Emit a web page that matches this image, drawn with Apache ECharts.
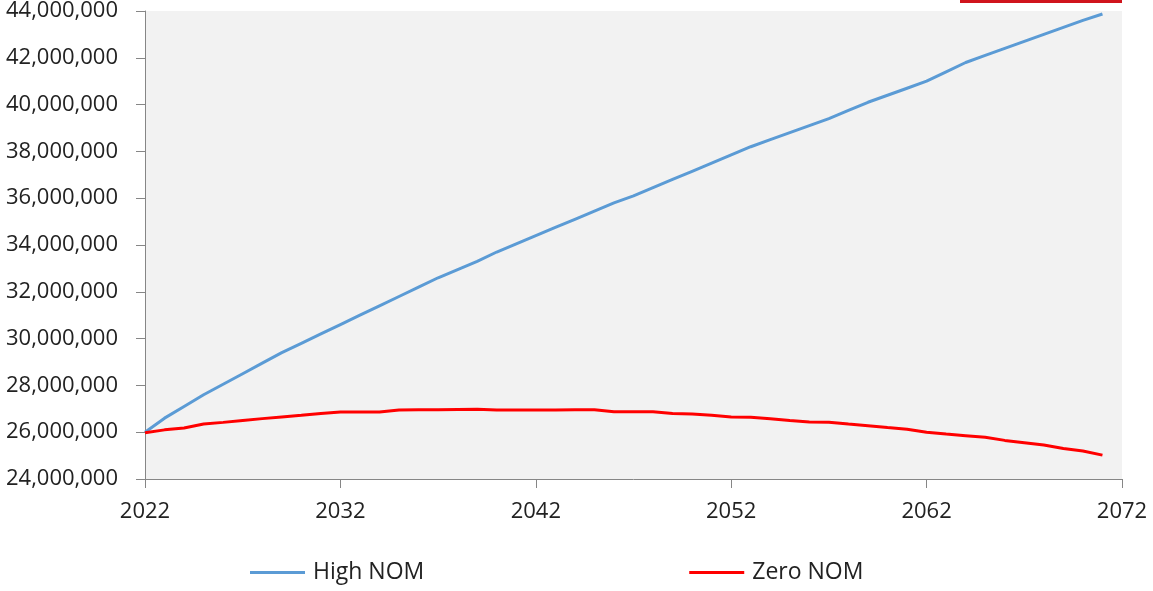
<!DOCTYPE html>
<html>
<head>
<meta charset="utf-8">
<script src="https://cdn.jsdelivr.net/npm/echarts@6/dist/echarts.min.js"></script>
<style>
  html, body { margin: 0; padding: 0; background: #ffffff; }
  #chart { width: 1153px; height: 591px; }
</style>
</head>
<body>
<div id="chart"></div>
<script>
// Projected population, 2022–2071 (millions)
const years = [];
for (let y = 2022; y <= 2071; y++) years.push(y);

const highNom = [
  26.0, 26.6, 27.1, 27.6, 28.05, 28.5, 28.95, 29.4, 29.8, 30.2,
  30.6, 31.0, 31.4, 31.8, 32.2, 32.6, 32.95, 33.3, 33.7, 34.05,
  34.4, 34.75, 35.1, 35.45, 35.8, 36.1, 36.45, 36.8, 37.15, 37.5,
  37.85, 38.2, 38.5, 38.8, 39.1, 39.4, 39.75, 40.1, 40.4, 40.7,
  41.0, 41.4, 41.8, 42.1, 42.4, 42.7, 43.0, 43.3, 43.6, 43.87
];

const zeroNom = [
  25.98, 26.1, 26.18, 26.35, 26.42, 26.5, 26.58, 26.65, 26.72, 26.8,
  26.86, 26.86, 26.86, 26.95, 26.96, 26.96, 26.97, 26.98, 26.95, 26.95,
  26.95, 26.95, 26.96, 26.96, 26.87, 26.87, 26.87, 26.8, 26.78, 26.72,
  26.65, 26.64, 26.57, 26.5, 26.44, 26.43, 26.35, 26.28, 26.2, 26.13,
  26.0, 25.92, 25.85, 25.78, 25.65, 25.55, 25.45, 25.3, 25.2, 25.02
];

const seriesNames = ['High NOM', 'Zero NOM'];

const toPoints = vals => years.map((y, i) => [y, vals[i] * 1e6]);

const font = '"Open Sans", "Noto Sans", sans-serif';
const axisGray = '#868686';
const textColor = '#222222';

const chart = echarts.init(document.getElementById('chart'), null, { renderer: 'canvas' });

chart.setOption({
  animation: false,
  backgroundColor: '#ffffff',
  textStyle: { fontFamily: font },
  grid: {
    left: 145, right: 31, top: 10, bottom: 112,
    show: true, backgroundColor: '#f2f2f2', borderWidth: 0
  },
  legend: {
    left: 250, top: 561, padding: 0,
    itemWidth: 55, itemHeight: 3, itemGap: 265,
    icon: 'rect',
    textStyle: { fontFamily: font, fontSize: 23, color: textColor, padding: [0, 0, 0, 3] },
    data: seriesNames
  },
  xAxis: {
    type: 'value', min: 2022, max: 2072, interval: 10,
    axisLine: { show: true, lineStyle: { color: axisGray, width: 1 } },
    axisTick: { show: true, length: 9, lineStyle: { color: axisGray } },
    splitLine: { show: false },
    axisLabel: {
      margin: 22, fontSize: 22, color: textColor, fontFamily: font,
      formatter: v => String(v)
    }
  },
  yAxis: {
    type: 'value', min: 24000000, max: 44000000, interval: 2000000,
    axisLine: { show: true, lineStyle: { color: axisGray, width: 1 } },
    axisTick: { show: true, length: 9, lineStyle: { color: axisGray } },
    splitLine: { show: false },
    axisLabel: {
      margin: 27, fontSize: 22, color: textColor, fontFamily: font,
      formatter: v => v.toLocaleString('en-US')
    }
  },
  graphic: [
    { type: 'rect', left: 960, top: 0, shape: { width: 162, height: 3 },
      style: { fill: '#d0141c' }, silent: true }
  ],
  series: [
    {
      name: seriesNames[0], type: 'line', data: toPoints(highNom),
      showSymbol: false, symbol: 'none',
      lineStyle: { color: '#5b9bd5', width: 3 },
      itemStyle: { color: '#5b9bd5' }
    },
    {
      name: seriesNames[1], type: 'line', data: toPoints(zeroNom),
      showSymbol: false, symbol: 'none',
      lineStyle: { color: '#ff0000', width: 3 },
      itemStyle: { color: '#ff0000' }
    }
  ]
});
</script>
</body>
</html>
